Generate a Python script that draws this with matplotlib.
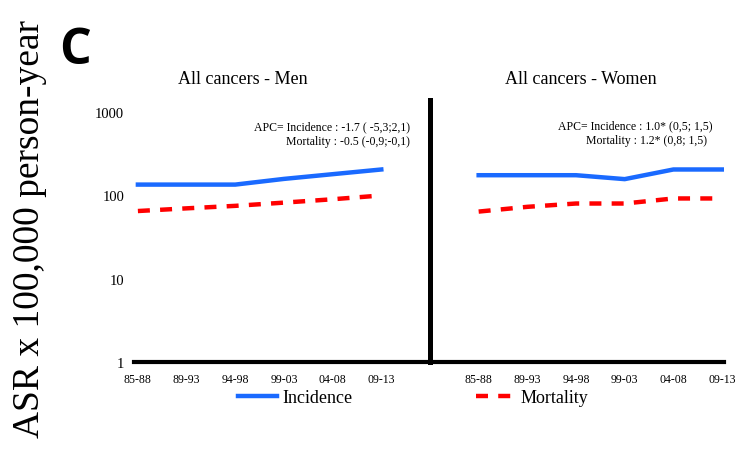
import numpy as np
import matplotlib.pyplot as plt

# Periods and rates (ASR per 100,000 person-year)
periods = ['85-88', '89-93', '94-98', '99-03', '04-08', '09-13']
men_incidence = [135, 135, 135, 158, 180, 205]
men_mortality = [65, 70, 75, 82, 90, 100]
women_incidence = [175, 175, 175, 157, 205, 205]
women_mortality = [64, 73, 80, 80, 92, 92]

blue = '#1a6aff'
red = '#ff0000'
serif = 'Liberation Serif'

plt.rcParams['font.family'] = serif

fig = plt.figure(figsize=(7.5, 4.52), dpi=100)
ax = fig.add_axes([134/750, 1 - 363/452, 590/750, 262/452])

# men on positions 0..5, women on 7..12, separator at 6
x_men = np.arange(6)
x_women = np.arange(7, 13)

dash = (2.7, 2.3)
ax.plot(x_men, men_incidence, color=blue, lw=3.2, label='Incidence')
ax.plot(x_men, men_mortality, color=red, lw=3.2, dashes=dash, label='Mortality')
ax.plot(x_women, women_incidence, color=blue, lw=3.2)
ax.plot(x_women, women_mortality, color=red, lw=3.2, dashes=dash)

ax.axvline(6, color='black', lw=3.6, ymin=0, ymax=1, clip_on=False)

ax.set_yscale('log')
ax.set_ylim(1, 1400)
ax.set_xlim(-0.08, 12.04)
ax.set_yticks([1, 10, 100, 1000])
ax.set_yticklabels(['1', '10', '100', '1000'])
ax.minorticks_off()
ax.set_xticks(list(x_men) + list(x_women))
ax.set_xticklabels(periods + periods)
ax.tick_params(axis='y', length=0, pad=7, labelsize=10.5)
ax.tick_params(axis='x', length=0, pad=8, labelsize=8.5)

for s in ['top', 'right', 'left']:
    ax.spines[s].set_visible(False)
ax.spines['bottom'].set_linewidth(3)

# panel titles
fig.text(243/750, 1 - 79/452, 'All cancers - Men', ha='center', va='center', fontsize=13)
fig.text(581/750, 1 - 80/452, 'All cancers - Women', ha='center', va='center', fontsize=13)

# APC annotations
fig.text(410/750, 1 - 127/452, 'APC= Incidence : -1.7 ( -5,3;2,1)', ha='right', va='center', fontsize=8.5)
fig.text(410/750, 1 - 142/452, 'Mortality : -0.5 (-0,9;-0,1)', ha='right', va='center', fontsize=8.5)
fig.text(712/750, 1 - 126/452, 'APC= Incidence : 1.0* (0,5; 1,5)', ha='right', va='center', fontsize=8.5)
fig.text(707/750, 1 - 141/452, 'Mortality : 1.2* (0,8; 1,5)', ha='right', va='center', fontsize=8.5)

# y label and panel letter
fig.text(30/750, 1 - 229/452, 'ASR x 100,000 person-year', rotation=90,
         ha='center', va='center', fontsize=27)
fig.text(75/750, 1 - 51/452, 'C', ha='center', va='center', fontsize=36,
         fontweight='bold', family=['Open Sans', 'DejaVu Sans'])

fig.legend(loc='center', bbox_to_anchor=(413/750, 1 - 399/452), ncol=2,
           frameon=False, fontsize=13, handlelength=2.2, columnspacing=6.8,
           handletextpad=0.3)

fig.savefig('out.png', dpi=100)
